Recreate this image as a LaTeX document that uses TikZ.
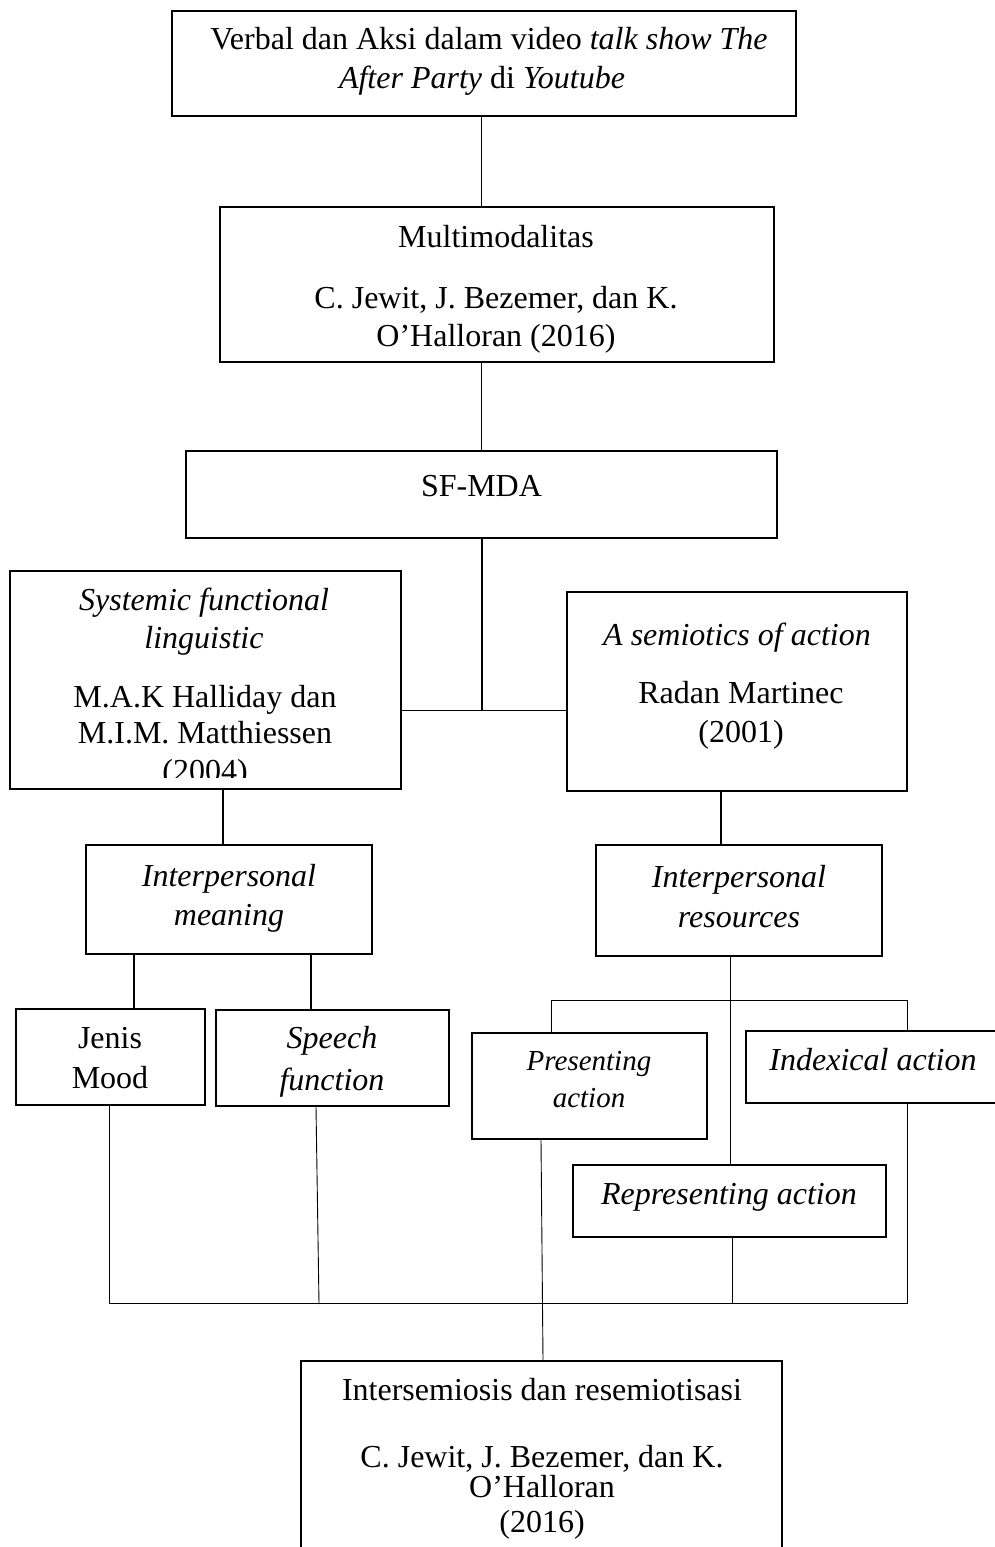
\documentclass[tikz,border=0pt]{standalone}
\usepackage{fontspec}
\setmainfont{Liberation Serif}
\begin{document}
\begin{tikzpicture}[x=1pt,y=-1pt,
  box/.style={draw, rectangle, line width=1.6pt, inner sep=0pt},
  txt/.style={inner sep=0pt, anchor=base, font=\fontsize{32}{38}\selectfont},
  stxt/.style={inner sep=0pt, anchor=base, font=\fontsize{29}{35}\selectfont},
  conn/.style={line width=0.9pt},
  connthick/.style={line width=1.6pt}]
\useasboundingbox (0,0) rectangle (994,1547);

% boxes
\node[box, minimum width=624pt, minimum height=105pt] (b1) at (484,63.5) {};
\node[box, minimum width=554pt, minimum height=155pt] (b2) at (497,284.5) {};
\node[box, minimum width=591pt, minimum height=87pt] (b3) at (481.5,494.5) {};
\node[box, minimum width=391pt, minimum height=218pt] (sfl) at (205.5,680) {};
\node[box, minimum width=340pt, minimum height=199pt] (sem) at (737,691.5) {};
\node[box, minimum width=286pt, minimum height=109pt] (im) at (229,899.5) {};
\node[box, minimum width=286pt, minimum height=111pt] (ir) at (739,900.5) {};
\node[box, minimum width=189pt, minimum height=96pt] (jen) at (110.5,1057) {};
\node[box, minimum width=233pt, minimum height=96pt] (spf) at (332.5,1058) {};
\node[box, minimum width=235pt, minimum height=106pt] (pres) at (589.5,1086) {};
\node[box, minimum width=254pt, minimum height=72pt] (idx) at (873,1067) {};
\node[box, minimum width=313pt, minimum height=72pt] (rep) at (729.5,1201) {};
\node[box, minimum width=481pt, minimum height=199pt] (bot) at (541.5,1460.5) {};

% texts
\node[txt] (t1a) at (489,49) {Verbal dan Aksi dalam video \textit{talk show The}};
\node[txt] (t1b) at (482,88) {\textit{After Party} di \textit{Youtube}};
\node[txt] (t2a) at (496,247) {Multimodalitas};
\node[txt] (t2b) at (496,308) {C. Jewit, J. Bezemer, dan K.};
\node[txt] (t2c) at (496,346) {O’Halloran (2016)};
\node[txt] (t3a) at (481.5,496) {SF-MDA};
\node[txt] (tsa) at (204,610) {\textit{Systemic functional}};
\node[txt] (tsb) at (204,648) {\textit{linguistic}};
\node[txt] (tsc) at (205,707) {M.A.K Halliday dan};
\node[txt] (tsd) at (205,743) {M.I.M. Matthiessen};
\begin{scope}
\clip (10,571) rectangle (401,777);
\node[txt] (tse) at (205,781) {(2004)};
\end{scope}
\node[txt] (tma) at (737,645) {\textit{A semiotics of action}};
\node[txt] (tmb) at (741,703) {Radan Martinec};
\node[txt] (tmc) at (741,742) {(2001)};
\node[txt] (tia) at (229,886) {\textit{Interpersonal}};
\node[txt] (tib) at (229,925) {\textit{meaning}};
\node[txt] (tra) at (739,887) {\textit{Interpersonal}};
\node[txt] (trb) at (739,927) {\textit{resources}};
\node[txt] (tja) at (110,1048) {Jenis};
\node[txt] (tjb) at (110,1088) {Mood};
\node[txt] (tfa) at (332,1048) {\textit{Speech}};
\node[txt] (tfb) at (332,1090) {\textit{function}};
\node[stxt] (tpa) at (589,1070) {\textit{Presenting}};
\node[stxt] (tpb) at (589,1107) {\textit{action}};
\node[txt] (txa) at (873,1070) {\textit{Indexical action}};
\node[txt] (tea) at (729,1204) {\textit{Representing action}};
\node[txt] (tba) at (542,1400) {Intersemiosis dan resemiotisasi};
\node[txt] (tbb) at (542,1467) {C. Jewit, J. Bezemer, dan K.};
\node[txt] (tbc) at (542,1497) {O’Halloran};
\node[txt] (tbd) at (542,1532) {(2016)};

% helper coordinates
\coordinate (xa) at (481,0);
\coordinate (j1) at (482,710);
\coordinate (xb) at (223,0);
\coordinate (xc) at (721,0);
\coordinate (xd) at (134,0);
\coordinate (xe) at (311,0);
\coordinate (xf) at (730,0);
\coordinate (bl) at (551,1000);
\coordinate (br) at (907,1000);
\coordinate (cl) at (109,1303);
\coordinate (cr) at (907,1303);
\coordinate (xs1) at (316,0);
\coordinate (sp2) at (319,1304);
\coordinate (xr) at (732,0);
\coordinate (xp1) at (541,0);
\coordinate (xp2) at (543,0);

% connectors
\draw[conn] (b1.south -| xa) -- (b2.north -| xa);
\draw[conn] (b2.south -| xa) -- (b3.north -| xa);
\draw[connthick] (b3.south -| j1) -- (j1);
\draw[conn] (sfl.east |- j1) -- (sem.west |- j1);
\draw[connthick] (sfl.south -| xb) -- (im.north -| xb);
\draw[connthick] (sem.south -| xc) -- (ir.north -| xc);
\draw[connthick] (im.south -| xd) -- (jen.north -| xd);
\draw[connthick] (im.south -| xe) -- (spf.north -| xe);
\draw[conn] (ir.south -| xf) -- (rep.north -| xf);
\draw[conn] (pres.north -| bl) -- (bl) -- (br) -- (idx.north -| br);
\draw[conn] (jen.south -| cl) -- (cl) -- (cr) -- (idx.south -| cr);
\draw[conn] (spf.south -| xs1) -- (sp2);
\draw[conn] (rep.south -| xr) -- (cr -| xr);
\draw[conn] (pres.south -| xp1) -- (bot.north -| xp2);
\end{tikzpicture}
\end{document}
